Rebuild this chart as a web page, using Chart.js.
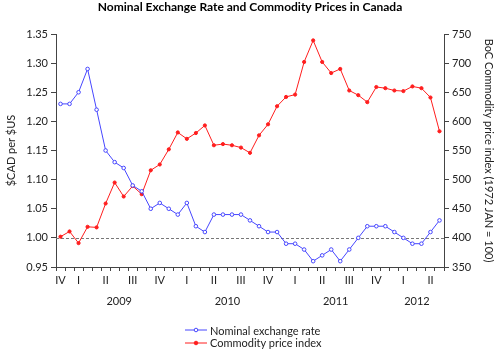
<!DOCTYPE html>
<html>
<head>
<meta charset="utf-8">
<script src="https://cdn.jsdelivr.net/npm/chart.js@4.4.0/dist/chart.umd.min.js"></script>
<style>
  body { margin: 0; background: #fff; }
  #wrap { position: relative; width: 500px; height: 351px; }
  #legend { position: absolute; left: 185px; top: 324px; font: 11px Lato, sans-serif; color: #222; }
  .row { display: flex; align-items: center; height: 12.6px; white-space: nowrap; }
  .row svg { margin-right: 3px; }
</style>
</head>
<body>
<div id="wrap">
  <canvas id="chart" width="500" height="351"></canvas>
  <div id="legend"></div>
</div>
<script>
// monthly, Dec 2008 .. Jun 2012
const months = [
  '2008-12',
  '2009-01', '2009-02', '2009-03', '2009-04', '2009-05', '2009-06', '2009-07', '2009-08', '2009-09', '2009-10', '2009-11', '2009-12',
  '2010-01', '2010-02', '2010-03', '2010-04', '2010-05', '2010-06', '2010-07', '2010-08', '2010-09', '2010-10', '2010-11', '2010-12',
  '2011-01', '2011-02', '2011-03', '2011-04', '2011-05', '2011-06', '2011-07', '2011-08', '2011-09', '2011-10', '2011-11', '2011-12',
  '2012-01', '2012-02', '2012-03', '2012-04', '2012-05', '2012-06'
];

const exchangeRate = [
  1.23, 1.23, 1.25, 1.29, 1.22, 1.15, 1.13, 1.12, 1.09, 1.08, 1.05, 1.06, 1.05,
  1.04, 1.06, 1.02, 1.01, 1.04, 1.04, 1.04, 1.04, 1.03, 1.02, 1.01, 1.01,
  0.99, 0.99, 0.98, 0.96, 0.97, 0.98, 0.96, 0.98, 1.00, 1.02, 1.02, 1.02,
  1.01, 1.00, 0.99, 0.99, 1.01, 1.03
];

const commodityIndex = [
  402, 411, 391, 419, 418, 459, 495, 471, 489, 475, 516, 526, 552,
  581, 570, 580, 593, 559, 561, 559, 555, 546, 576, 595, 626,
  642, 646, 702, 739, 702, 683, 690, 653, 645, 633, 659, 657,
  653, 652, 660, 657, 641, 583
];

// quarter labels sit on the middle month of each quarter
const quarterPos = [0, 2, 5, 8, 11, 14, 17, 20, 23, 26, 29, 32, 35, 38, 41];
const quarterNames = ['IV', 'I', 'II', 'III', 'IV', 'I', 'II', 'III', 'IV', 'I', 'II', 'III', 'IV', 'I', 'II'];

const yearNames = ['2009', '2010', '2011', '2012'];
const yearCenters = [6.5, 18.5, 30.5, 39.5];

const blue = 'rgb(70,70,255)';
const red = 'rgb(255,30,30)';
const txt = '#222';

Chart.defaults.font.family = 'Lato, sans-serif';
Chart.defaults.font.size = 11;
Chart.defaults.color = txt;

// dashed reference line at parity
const refLine = {
  id: 'refLine',
  beforeDatasetsDraw(chart) {
    const ctx = chart.ctx;
    const y = Math.round(chart.scales.y.getPixelForValue(1.00)) + 0.5;
    const { left, right } = chart.chartArea;
    ctx.save();
    ctx.strokeStyle = '#777';
    ctx.lineWidth = 1;
    ctx.setLineDash([3, 2]);
    ctx.beginPath();
    ctx.moveTo(left, y);
    ctx.lineTo(right, y);
    ctx.stroke();
    ctx.restore();
  }
};

const chart = new Chart(document.getElementById('chart'), {
  type: 'line',
  data: {
    labels: months,
    datasets: [
      {
        label: 'Nominal exchange rate',
        data: exchangeRate,
        yAxisID: 'y',
        borderColor: blue,
        borderWidth: 1,
        pointRadius: 1.8,
        pointBorderWidth: 1,
        pointBackgroundColor: '#fff',
        pointBorderColor: blue,
        tension: 0
      },
      {
        label: 'Commodity price index',
        data: commodityIndex,
        yAxisID: 'y1',
        borderColor: red,
        borderWidth: 1,
        pointRadius: 1.6,
        pointBorderWidth: 1,
        pointBackgroundColor: red,
        pointBorderColor: red,
        tension: 0
      }
    ]
  },
  options: {
    responsive: false,
    animation: false,
    layout: { padding: { left: 0, right: 0, top: 0, bottom: 42 } },
    plugins: {
      legend: { display: false },
      tooltip: { enabled: false },
      title: {
        display: true,
        text: 'Nominal Exchange Rate and Commodity Prices in Canada',
        color: '#000',
        font: { size: 12, weight: 'bold' },
        padding: { top: 0, bottom: 19.6 }
      }
    },
    scales: {
      x: {
        type: 'category',
        offset: true,
        weight: 0,
        grid: { offset: true, drawOnChartArea: false, tickLength: 4, color: '#444' },
        border: { color: '#444' },
        ticks: {
          autoSkip: false,
          maxRotation: 0,
          padding: 3,
          callback: (v, i) => {
            const k = quarterPos.indexOf(i);
            return k >= 0 ? quarterNames[k] : '';
          }
        },
        afterFit: s => { s.height = 20; }
      },
      x2: {
        type: 'linear',
        position: 'bottom',
        weight: 1,
        min: -0.5,
        max: 42.5,
        grid: { display: false, drawTicks: false },
        border: { display: false },
        afterBuildTicks: s => { s.ticks = yearCenters.map(v => ({ value: v })); },
        ticks: {
          padding: 8,
          maxRotation: 0,
          autoSkip: false,
          callback: (v, i) => yearNames[i]
        },
        afterFit: s => { s.height = 22; }
      },
      y: {
        position: 'left',
        min: 0.95,
        max: 1.35,
        grid: { drawOnChartArea: false, tickLength: 5, color: '#444' },
        border: { color: '#444' },
        ticks: { stepSize: 0.05, padding: 3, callback: v => v.toFixed(2) },
        title: { display: true, text: '$CAD per $US', padding: { top: 5, bottom: 0 } },
        afterFit: s => { s.width = 56; }
      },
      y1: {
        position: 'right',
        min: 350,
        max: 750,
        grid: { drawOnChartArea: false, tickLength: 5, color: '#444' },
        border: { color: '#444' },
        ticks: { stepSize: 50, padding: 3 },
        title: { display: true, text: 'BoC Commodity price index (1972 JAN = 100)', padding: { top: 5, bottom: 0 } },
        afterFit: s => { s.width = 56; }
      }
    }
  },
  plugins: [refLine]
});

// legend stacked vertically under the axis
const legend = document.getElementById('legend');
chart.data.datasets.forEach(ds => {
  const row = document.createElement('div');
  row.className = 'row';
  row.innerHTML =
    '<svg width="22" height="8"><line x1="0" y1="4" x2="22" y2="4" stroke="' + ds.borderColor + '" stroke-width="1"/>' +
    '<circle cx="11" cy="4" r="1.8" fill="' + ds.pointBackgroundColor + '" stroke="' + ds.pointBorderColor + '"/></svg>' +
    '<span>' + ds.label + '</span>';
  legend.appendChild(row);
});
</script>
</body>
</html>
